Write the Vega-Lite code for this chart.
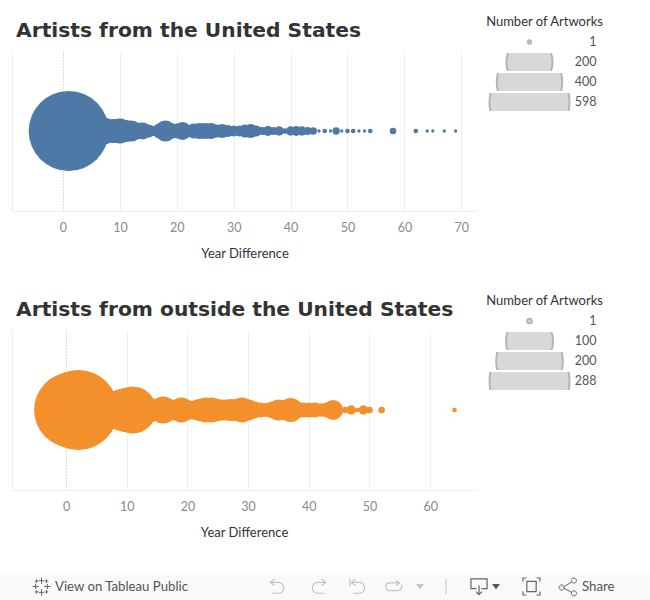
{
"$schema":"https://vega.github.io/schema/vega-lite/v6.json",
"background":"white",
"padding":{"left":0,"right":0,"top":16,"bottom":0},
"config":{"view":{"stroke":null},"font":"Lato"},
"datasets":{
"us":[{"year":0,"n":200},{"year":1,"n":598},{"year":2,"n":300},{"year":3,"n":200},{"year":4,"n":120},{"year":5,"n":100},{"year":6,"n":80},{"year":7,"n":70},{"year":8,"n":54},{"year":9,"n":54},{"year":10,"n":58},{"year":11,"n":45},{"year":12,"n":41},{"year":13,"n":27},{"year":14,"n":27},{"year":15,"n":16},{"year":16,"n":9},{"year":17,"n":21},{"year":18,"n":41},{"year":19,"n":23},{"year":20,"n":21},{"year":21,"n":30},{"year":22,"n":14},{"year":23,"n":21},{"year":24,"n":24},{"year":25,"n":24},{"year":26,"n":24},{"year":27,"n":16},{"year":28,"n":18},{"year":29,"n":13},{"year":30,"n":11},{"year":31,"n":11},{"year":32,"n":16},{"year":33,"n":18},{"year":34,"n":11},{"year":35,"n":6},{"year":36,"n":9},{"year":37,"n":6},{"year":38,"n":8},{"year":39,"n":3},{"year":40,"n":8},{"year":41,"n":9},{"year":42,"n":8},{"year":43,"n":6},{"year":44,"n":5},{"year":45,"n":1},{"year":46,"n":2},{"year":47,"n":1},{"year":48,"n":5},{"year":49,"n":1},{"year":50,"n":2},{"year":51,"n":2},{"year":52,"n":1},{"year":53,"n":1},{"year":54,"n":2},{"year":58,"n":4},{"year":62,"n":2},{"year":64,"n":1},{"year":65,"n":1},{"year":67,"n":1},{"year":69,"n":1}],
"other":[{"year":0,"n":150},{"year":1,"n":260},{"year":2,"n":288},{"year":3,"n":170},{"year":4,"n":120},{"year":5,"n":100},{"year":6,"n":80},{"year":7,"n":70},{"year":8,"n":62},{"year":9,"n":75},{"year":10,"n":88},{"year":11,"n":99},{"year":12,"n":55},{"year":13,"n":35},{"year":14,"n":26},{"year":15,"n":22},{"year":16,"n":33},{"year":17,"n":22},{"year":18,"n":18},{"year":19,"n":28},{"year":20,"n":18},{"year":21,"n":16},{"year":22,"n":22},{"year":23,"n":28},{"year":24,"n":28},{"year":25,"n":22},{"year":26,"n":20},{"year":27,"n":22},{"year":28,"n":22},{"year":29,"n":28},{"year":30,"n":20},{"year":31,"n":13},{"year":32,"n":10},{"year":33,"n":9},{"year":34,"n":13},{"year":35,"n":20},{"year":36,"n":18},{"year":37,"n":26},{"year":38,"n":13},{"year":39,"n":10},{"year":40,"n":10},{"year":41,"n":10},{"year":42,"n":8},{"year":43,"n":10},{"year":44,"n":18},{"year":45,"n":2},{"year":46,"n":2},{"year":47,"n":4},{"year":48,"n":1},{"year":49,"n":4},{"year":50,"n":2},{"year":52,"n":2},{"year":64,"n":1}],
"legendUs":[{"n":1},{"n":200},{"n":400},{"n":598}],
"legendOther":[{"n":1},{"n":100},{"n":200},{"n":288}]
},
"spacing":33,
"resolve":{"scale":{"size":"independent"}},
"vconcat":[
{"spacing":34,"resolve":{"scale":{"size":"independent"}},"vconcat":[
 {"spacing":8.5,"resolve":{"scale":{"size":"independent"}},"hconcat":[
  {"bounds":"flush","spacing":0,"resolve":{"scale":{"size":"independent"}},"vconcat":[
   {"width":465,"height":18,"data":{"values":[]},"mark":"point","encoding":{}},
   {"width":465,"height":160,"data":{"name":"us"},
    "title":{"text":"Artists from the United States","anchor":"start","dx":4,"offset":10,"font":"DejaVu Sans","fontWeight":"bold","fontSize":20.25,"color":"#333333"},
    "mark":{"type":"circle","opacity":1,"color":"#4e79a7"},
    "encoding":{
     "x":{"field":"year","type":"quantitative","scale":{"domain":[-8.96,72.76],"nice":false,"zero":false},
      "axis":{"values":[0,10,20,30,40,50,60,70],"title":"Year Difference","titleFont":"Lato","titleFontSize":13,"titleFontWeight":"normal","titleColor":"#333333","titlePadding":14,"labelColor":"#8a8a8a","labelFontSize":12.5,"labelPadding":10,"ticks":false,"domain":true,"domainColor":"#eeeeee","grid":true,"gridColor":{"condition":{"test":"datum.value===0","value":"#b5b5b5"},"value":"#f0f0f0"},"gridDash":{"condition":{"test":"datum.value===0","value":[1,2]},"value":[]}}},
     "y":{"datum":0,"type":"quantitative","scale":{"domain":[-1,1]},"axis":{"title":null,"labels":false,"ticks":false,"grid":false,"domain":true,"domainColor":"#eeeeee"}},
     "size":{"field":"n","type":"quantitative","scale":{"domain":[0,598],"range":[0,6400]},"legend":null}
    }}
  ]},
  {"data":{"name":"legendUs"},"bounds":"flush","spacing":{"row":2},
   "title":{"text":"Number of Artworks","anchor":"middle","offset":4,"font":"Lato","fontWeight":"normal","fontSize":13,"color":"#333333"},
   "facet":{"row":{"field":"n","type":"ordinal","sort":"ascending","header":null}},
   "spec":{"width":116,"height":18,"layer":[
    {"mark":{"type":"circle","clip":true,"opacity":1,"fill":"#d8d8d8","stroke":"#b5b5b5","strokeWidth":2},
     "encoding":{"x":{"datum":"symbol","type":"nominal","scale":{"type":"point","padding":0,"domain":["symbol","value"],"range":[43,110]},"axis":null},
      "size":{"field":"n","type":"quantitative","scale":{"domain":[0,598],"range":[0,6400]},"legend":null}}},
    {"mark":{"type":"text","align":"right","fontSize":12.5,"color":"#555555"},
     "encoding":{"x":{"datum":"value","type":"nominal","scale":{"type":"point","padding":0,"domain":["symbol","value"],"range":[43,110]},"axis":null},"text":{"field":"n","type":"quantitative"}}}
   ]}}
 ]},
 {"spacing":9.5,"resolve":{"scale":{"size":"independent"}},"hconcat":[
  {"bounds":"flush","spacing":0,"resolve":{"scale":{"size":"independent"}},"vconcat":[
   {"width":464,"height":18,"data":{"values":[]},"mark":"point","encoding":{}},
   {"width":464,"height":160,"data":{"name":"other"},
    "title":{"text":"Artists from outside the United States","anchor":"start","dx":4,"offset":10,"font":"DejaVu Sans","fontWeight":"bold","fontSize":20.25,"color":"#333333"},
    "mark":{"type":"circle","opacity":1,"color":"#f4902c"},
    "encoding":{
     "x":{"field":"year","type":"quantitative","scale":{"domain":[-8.9,67.55],"nice":false,"zero":false},
      "axis":{"values":[0,10,20,30,40,50,60],"title":"Year Difference","titleFont":"Lato","titleFontSize":13,"titleFontWeight":"normal","titleColor":"#333333","titlePadding":14,"labelColor":"#8a8a8a","labelFontSize":12.5,"labelPadding":10,"ticks":false,"domain":true,"domainColor":"#eeeeee","grid":true,"gridColor":{"condition":{"test":"datum.value===0","value":"#b5b5b5"},"value":"#f0f0f0"},"gridDash":{"condition":{"test":"datum.value===0","value":[1,2]},"value":[]}}},
     "y":{"datum":0,"type":"quantitative","scale":{"domain":[-1,1]},"axis":{"title":null,"labels":false,"ticks":false,"grid":false,"domain":true,"domainColor":"#eeeeee"}},
     "size":{"field":"n","type":"quantitative","scale":{"domain":[0,288],"range":[0,6400]},"legend":null}
    }}
  ]},
  {"data":{"name":"legendOther"},"bounds":"flush","spacing":{"row":2},
   "title":{"text":"Number of Artworks","anchor":"middle","offset":4,"font":"Lato","fontWeight":"normal","fontSize":13,"color":"#333333"},
   "facet":{"row":{"field":"n","type":"ordinal","sort":"ascending","header":null}},
   "spec":{"width":116,"height":18,"layer":[
    {"mark":{"type":"circle","clip":true,"opacity":1,"fill":"#d8d8d8","stroke":"#b5b5b5","strokeWidth":2},
     "encoding":{"x":{"datum":"symbol","type":"nominal","scale":{"type":"point","padding":0,"domain":["symbol","value"],"range":[43,110]},"axis":null},
      "size":{"field":"n","type":"quantitative","scale":{"domain":[0,288],"range":[0,6400]},"legend":null}}},
    {"mark":{"type":"text","align":"right","fontSize":12.5,"color":"#555555"},
     "encoding":{"x":{"datum":"value","type":"nominal","scale":{"type":"point","padding":0,"domain":["symbol","value"],"range":[43,110]},"axis":null},"text":{"field":"n","type":"quantitative"}}}
   ]}}
 ]}
]},
{"width":638,"height":27,"data":{"values":[{}]},
 "encoding":{"x":{"datum":0,"type":"quantitative","scale":{"domain":[0,650],"range":[-12,638],"nice":false,"zero":false},"axis":null}},
 "layer":[
 {"mark":{"type":"rect","color":"#f9f9f9"},"encoding":{"x":{"datum":0,"type":"quantitative"},"x2":{"datum":650}}},
 {"mark":{"type":"text","align":"left","fontSize":13.2,"color":"#555555"},"encoding":{"x":{"datum":55,"type":"quantitative"},"text":{"value":"View on Tableau Public"}}},
 {"mark":{"type":"text","align":"left","fontSize":13.2,"color":"#555555"},"encoding":{"x":{"datum":582,"type":"quantitative"},"text":{"value":"Share"}}},
 {"mark":{"type":"point","shape":"M0,-1V-0.3M-0.3,-0.65H0.3M0,1V0.3M-0.3,0.65H0.3M-1,0H-0.3M-0.65,-0.3V0.3M1,0H0.3M0.65,-0.3V0.3M-0.55,-0.8V-0.4M-0.75,-0.6H-0.35M0.55,-0.8V-0.4M0.75,-0.6H0.35M-0.55,0.8V0.4M-0.75,0.6H-0.35M0.55,0.8V0.4M0.75,0.6H0.35","size":324,"stroke":"#666666","strokeWidth":1,"opacity":1,"fill":null},"encoding":{"x":{"datum":41.5,"type":"quantitative"}}},
 {"mark":{"type":"point","shape":"M-0.25,-0.85L-0.75,-0.45L-0.25,-0.1M-0.75,-0.45H0.2A0.55,0.6 0 0 1 0.2,0.75H-0.55","size":324,"stroke":"#c4c4c4","strokeWidth":1.2,"opacity":1,"fill":null},"encoding":{"x":{"datum":277,"type":"quantitative"}}},
 {"mark":{"type":"point","shape":"M0.25,-0.85L0.75,-0.45L0.25,-0.1M0.75,-0.45H-0.2A0.55,0.6 0 0 0 -0.2,0.75H0.55","size":324,"stroke":"#c4c4c4","strokeWidth":1.2,"opacity":1,"fill":null},"encoding":{"x":{"datum":319,"type":"quantitative"}}},
 {"mark":{"type":"point","shape":"M-0.9,-0.9V-0.05M-0.25,-0.85L-0.75,-0.45L-0.25,-0.1M-0.75,-0.45H0.2A0.55,0.6 0 0 1 0.2,0.75H-0.55","size":324,"stroke":"#c4c4c4","strokeWidth":1.2,"opacity":1,"fill":null},"encoding":{"x":{"datum":358,"type":"quantitative"}}},
 {"mark":{"type":"point","shape":"M0.2,-0.7L0.65,-0.4L0.2,-0.1M0.65,-0.4H-0.5Q-0.9,-0.4 -0.9,0Q-0.9,0.45 -0.5,0.45H0.4Q0.85,0.45 0.85,0V-0.2","size":324,"stroke":"#c4c4c4","strokeWidth":1.2,"opacity":1,"fill":null},"encoding":{"x":{"datum":394,"type":"quantitative"}}},
 {"mark":{"type":"point","shape":"M-1,-0.6H1L0,0.7Z","size":64,"fill":"#c4c4c4","stroke":null,"opacity":1},"encoding":{"x":{"datum":420,"type":"quantitative"}}},
 {"mark":{"type":"point","shape":"M0,-1V1","size":225,"stroke":"#c4c4c4","strokeWidth":1,"opacity":1,"fill":null},"encoding":{"x":{"datum":446,"type":"quantitative"}}},
 {"mark":{"type":"point","shape":"M-0.3,0.25H-0.95V-0.9H0.95V0.25H0.3M0,-0.15V0.95M-0.35,0.6L0,0.95L0.35,0.6","size":289,"stroke":"#666666","strokeWidth":1.2,"opacity":1,"fill":null},"encoding":{"x":{"datum":479,"type":"quantitative"}}},
 {"mark":{"type":"point","shape":"M-1,-0.6H1L0,0.7Z","size":64,"fill":"#555555","stroke":null,"opacity":1},"encoding":{"x":{"datum":496,"type":"quantitative"}}},
 {"mark":{"type":"point","shape":"M-1,-0.6V-1H-0.6M0.6,-1H1V-0.6M1,0.6V1H0.6M-0.6,1H-1V0.6M-0.55,-0.6H0.55V0.6H-0.55Z","size":289,"stroke":"#666666","strokeWidth":1.2,"opacity":1,"fill":null},"encoding":{"x":{"datum":531.5,"type":"quantitative"}}},
 {"mark":{"type":"point","shape":"M-0.5,0.05L0.45,-0.55M-0.5,0.2L0.45,0.7M-0.45,0.12A0.3,0.3 0 1 1 -1.05,0.12A0.3,0.3 0 1 1 -0.45,0.12M1,-0.7A0.3,0.3 0 1 1 0.4,-0.7A0.3,0.3 0 1 1 1,-0.7M1,0.8A0.3,0.3 0 1 1 0.4,0.8A0.3,0.3 0 1 1 1,0.8","size":289,"stroke":"#666666","strokeWidth":1,"opacity":1,"fill":null},"encoding":{"x":{"datum":568,"type":"quantitative"}}}
 ]}
]
}
